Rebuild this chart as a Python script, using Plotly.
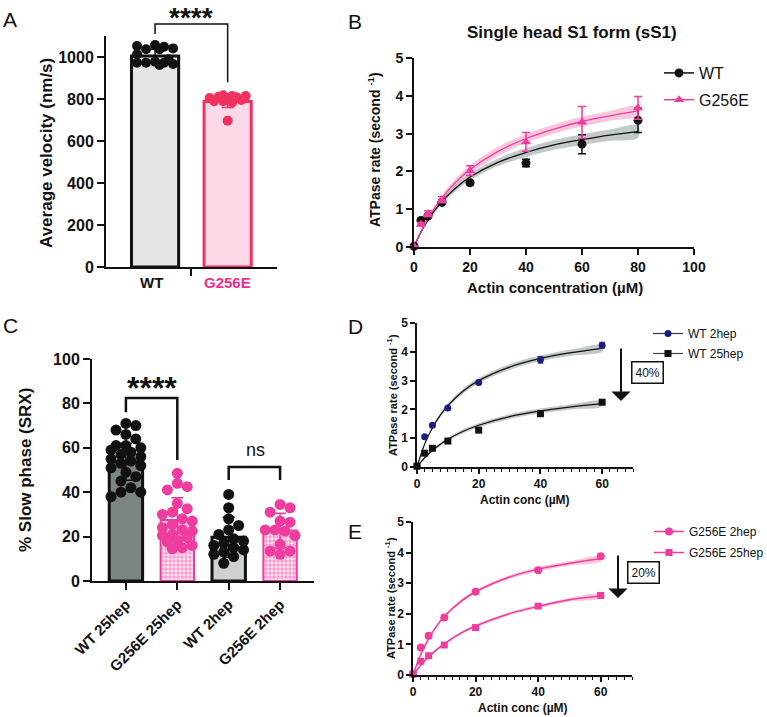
import math
import plotly.graph_objects as go

FONT = "Liberation Sans, Arial, sans-serif"
W, H = 767, 717

# ---------------- Panel A data ----------------
a_groups = ["WT", "G256E"]
a_means = [1005, 788]
a_sd = [32, 28]
a_wt_points = [1057, 1049, 1037, 1041, 1052, 1037, 1013, 978, 973, 973, 967, 973, 962, 989]
a_g_points = [805, 808, 811, 814, 805, 814, 818, 795, 789, 783, 789, 800, 697]

# ---------------- Panel B data ----------------
b_x = [0, 2.5, 5, 10, 20, 40, 60, 80]
b_wt = [0.02, 0.70, 0.82, 1.18, 1.70, 2.22, 2.72, 3.35]
b_wt_err = [0, 0.03, 0.04, 0.05, 0.05, 0.10, 0.25, 0.32]
b_g = [0.02, 0.60, 0.88, 1.25, 2.02, 2.78, 3.30, 3.68]
b_g_err = [0, 0.05, 0.08, 0.08, 0.13, 0.25, 0.42, 0.30]
b_fit_x = [0, 2.5, 5, 10, 15, 20, 30, 40, 50, 60, 70, 80]
b_wt_fit = [0, 0.40, 0.72, 1.21, 1.57, 1.85, 2.24, 2.50, 2.70, 2.84, 2.96, 3.05]
b_wt_band = [0, 0.03, 0.05, 0.07, 0.08, 0.09, 0.10, 0.12, 0.13, 0.14, 0.15, 0.16]
b_g_fit = [0, 0.41, 0.75, 1.30, 1.72, 2.05, 2.53, 2.87, 3.12, 3.32, 3.47, 3.60]
b_g_band = [0, 0.03, 0.06, 0.08, 0.10, 0.11, 0.12, 0.12, 0.12, 0.13, 0.13, 0.13]

# ---------------- Panel C data ----------------
c_groups = ["WT 25hep", "G256E 25hep", "WT 2hep", "G256E 2hep"]
c_means = [53.7, 27.5, 19.7, 22.7]
c_sd = [8.3, 10.0, 9.0, 7.8]
c_wt25 = [71, 70, 68, 66, 64, 61, 61, 60, 59, 58, 57, 56, 55, 54, 53, 52, 51, 49, 47, 45, 42, 40, 40, 38]
c_g25 = [48.5, 44, 42.5, 41, 35, 32.5, 31, 30, 28, 27, 25.5, 24, 23, 22.5, 21, 20.5, 19.5, 18.5, 17.5, 16, 15, 14.5]
c_wt2 = [39, 33, 28, 25, 23, 21, 19, 18, 17, 16, 15, 14, 13, 12, 11, 8]
c_g2 = [34.5, 33, 31, 27, 26.5, 23, 23, 22.5, 20.5, 16.5, 13.5, 13.5, 12]

# ---------------- Panel D data ----------------
d_x = [0, 2.5, 5, 10, 20, 40, 60]
d_wt2 = [0.03, 1.05, 1.45, 2.05, 2.93, 3.72, 4.23]
d_wt2_err = [0, 0.03, 0.03, 0.04, 0.05, 0.12, 0.10]
d_wt25 = [0.03, 0.48, 0.65, 0.90, 1.28, 1.85, 2.25]
d_wt25_err = [0, 0.02, 0.03, 0.03, 0.04, 0.04, 0.04]
d_fit_x = [0, 2.5, 5, 7.5, 10, 15, 20, 30, 40, 50, 60]
d_wt2_fit = [0, 0.80, 1.36, 1.79, 2.13, 2.64, 3.00, 3.47, 3.77, 3.97, 4.12]
d_wt2_band = [0, 0.04, 0.06, 0.07, 0.08, 0.09, 0.09, 0.10, 0.10, 0.11, 0.11]
d_wt25_fit = [0, 0.32, 0.57, 0.78, 0.96, 1.24, 1.45, 1.75, 1.95, 2.09, 2.20]
d_wt25_band = [0, 0.03, 0.05, 0.06, 0.06, 0.07, 0.07, 0.08, 0.08, 0.09, 0.09]

# ---------------- Panel E data ----------------
e_x = [0, 2.5, 5, 10, 20, 40, 60]
e_g2 = [0.03, 0.90, 1.28, 1.88, 2.72, 3.42, 3.88]
e_g25 = [0.03, 0.45, 0.63, 0.98, 1.55, 2.25, 2.60]
e_fit_x = [0, 2.5, 5, 7.5, 10, 15, 20, 30, 40, 50, 60]
e_g2_fit = [0, 0.68, 1.19, 1.59, 1.91, 2.38, 2.72, 3.17, 3.46, 3.65, 3.80]
e_g2_band = [0, 0.03, 0.04, 0.05, 0.05, 0.06, 0.06, 0.06, 0.07, 0.07, 0.08]
e_g25_fit = [0, 0.32, 0.59, 0.82, 1.02, 1.35, 1.60, 1.98, 2.24, 2.46, 2.58]
e_g25_band = [0, 0.02, 0.03, 0.04, 0.04, 0.05, 0.05, 0.05, 0.06, 0.06, 0.07]

# significance brackets: (left x, right x, top, left leg end, right leg end) in data units
a_bracket = (0, 1, 1157, 1110, 880)
c_bracket1 = (0, 1, 82.4, 76, 54.5)
c_bracket2 = (2, 3, 51.4, 45.5, 45.5)

# ---------------- colours ----------------
BLACK = "#111111"
PINK_A = "#f0325f"
PINK_A_LABEL = "#ee2f8c"
PINK_A_FILL = "#fdd8e8"
PINK = "#ee3d9e"
PINK_BAND = "rgba(240,130,185,0.45)"
GRAY_BAND = "rgba(120,135,132,0.45)"
NAVY = "#1c1c80"


def pxx(x):
    return x / W


def pxy(y):
    return 1 - y / H


def swarm(vals, ypx, xpx, diam, maxoff):
    step = diam * 0.45
    n = int(maxoff * xpx / step)
    cands = [0.0]
    for k in range(1, n + 1):
        cands += [k * step, -k * step]
    placed, offs = [], []
    for v in vals:
        y = v * ypx
        best, bestd, bestc = None, -1, 0.0
        for c in cands:
            d = min([math.hypot(c - p[0], y - p[1]) for p in placed], default=1e9)
            if d >= diam * 0.9:
                best = c
                break
            if d > bestd:
                bestd, bestc = d, c
        if best is None:
            best = bestc
        placed.append((best, y))
        offs.append(best / xpx)
    return offs


fig = go.Figure()

# ================= Panel A =================
a_fill = ["#e4e6e6", PINK_A_FILL]
a_line = [BLACK, PINK_A]
for i in range(2):
    fig.add_trace(go.Bar(x=[i], y=[a_means[i]], width=0.65,
                         marker=dict(color=a_fill[i], line=dict(color=a_line[i], width=3)),
                         error_y=dict(type="data", array=[a_sd[i]], color=a_line[i], thickness=1.5, width=6),
                         xaxis="x", yaxis="y", showlegend=False))
for gi, (pts, col) in enumerate([(a_wt_points, BLACK), (a_g_points, PINK_A)]):
    offs = swarm(pts, 0.21, 72.5, 10, 0.28)
    fig.add_trace(go.Scatter(x=[gi + o for o in offs], y=pts, mode="markers",
                             marker=dict(color=col, size=10), cliponaxis=False,
                             xaxis="x", yaxis="y", showlegend=False))


# ================= Panel B =================
def band(xs, fit, hw, color, xa, ya):
    upper = [f + h for f, h in zip(fit, hw)]
    lower = [f - h for f, h in zip(fit, hw)]
    fig.add_trace(go.Scatter(x=xs + xs[::-1], y=upper + lower[::-1], fill="toself",
                             fillcolor=color, line=dict(width=0, shape="spline"), mode="lines",
                             hoverinfo="skip", xaxis=xa, yaxis=ya, showlegend=False))


band(b_fit_x, b_wt_fit, b_wt_band, GRAY_BAND, "x2", "y2")
band(b_fit_x, b_g_fit, b_g_band, PINK_BAND, "x2", "y2")
fig.add_trace(go.Scatter(x=b_fit_x, y=b_wt_fit, mode="lines", line=dict(color=BLACK, width=1.3, shape="spline"),
                         xaxis="x2", yaxis="y2", showlegend=False))
fig.add_trace(go.Scatter(x=b_fit_x, y=b_g_fit, mode="lines", line=dict(color=PINK, width=1.3, shape="spline"),
                         xaxis="x2", yaxis="y2", showlegend=False))
fig.add_trace(go.Scatter(x=b_x, y=b_wt, mode="markers", marker=dict(color=BLACK, size=9, symbol="circle"),
                         error_y=dict(type="data", array=b_wt_err, color=BLACK, thickness=1.5, width=4),
                         cliponaxis=False, xaxis="x2", yaxis="y2", showlegend=False))
fig.add_trace(go.Scatter(x=b_x, y=b_g, mode="markers", marker=dict(color=PINK, size=9, symbol="triangle-up"),
                         error_y=dict(type="data", array=b_g_err, color=PINK, thickness=1.5, width=4),
                         cliponaxis=False, xaxis="x2", yaxis="y2", showlegend=False))
fig.add_trace(go.Scatter(x=[None], y=[None], mode="lines+markers", name="WT",
                         line=dict(color=BLACK, width=1.5), marker=dict(color=BLACK, size=9),
                         legend="legend", legendgroup="b1", xaxis="x2", yaxis="y2"))
fig.add_trace(go.Scatter(x=[None], y=[None], mode="lines+markers", name="G256E",
                         line=dict(color=PINK, width=1.5), marker=dict(color=PINK, size=9, symbol="triangle-up"),
                         legend="legend", legendgroup="b2", xaxis="x2", yaxis="y2"))

# ================= Panel C =================
c_fill = ["#7b8684", "#fbd0e6", "#cdd1d0", "#fbd0e6"]
c_line = [BLACK, PINK, BLACK, PINK]
for i in range(4):
    pink = i % 2 == 1
    marker = dict(color=c_fill[i], line=dict(color=c_line[i], width=3 if not pink else 2))
    if pink:
        marker["pattern"] = dict(shape=".", fgcolor="#ee5aae", bgcolor="#fde3f0", size=4, solidity=0.55)
    fig.add_trace(go.Bar(x=[i], y=[c_means[i]], width=0.65, marker=marker,
                         error_y=dict(type="data", array=[c_sd[i]], color=c_line[i], thickness=1.5, width=6),
                         xaxis="x3", yaxis="y3", showlegend=False))
for i, (pts, col) in enumerate([(c_wt25, BLACK), (c_g25, PINK), (c_wt2, BLACK), (c_g2, PINK)]):
    offs = swarm(pts, 2.22, 51.3, 11, 0.3)
    fig.add_trace(go.Scatter(x=[i + o for o in offs], y=pts, mode="markers",
                             marker=dict(color=col, size=11), cliponaxis=False,
                             xaxis="x3", yaxis="y3", showlegend=False))

# ================= Panel D =================
band(d_fit_x, d_wt2_fit, d_wt2_band, GRAY_BAND, "x4", "y4")
band(d_fit_x, d_wt25_fit, d_wt25_band, GRAY_BAND, "x4", "y4")
for fit in (d_wt2_fit, d_wt25_fit):
    fig.add_trace(go.Scatter(x=d_fit_x, y=fit, mode="lines", line=dict(color=BLACK, width=1.2, shape="spline"),
                             xaxis="x4", yaxis="y4", showlegend=False))
fig.add_trace(go.Scatter(x=d_x, y=d_wt2, mode="markers", marker=dict(color=NAVY, size=7),
                         error_y=dict(type="data", array=d_wt2_err, color="#555555", thickness=1, width=3),
                         cliponaxis=False, xaxis="x4", yaxis="y4", showlegend=False))
fig.add_trace(go.Scatter(x=d_x, y=d_wt25, mode="markers", marker=dict(color=BLACK, size=7, symbol="square"),
                         error_y=dict(type="data", array=d_wt25_err, color="#555555", thickness=1, width=3),
                         cliponaxis=False, xaxis="x4", yaxis="y4", showlegend=False))
fig.add_trace(go.Scatter(x=[None], y=[None], mode="lines+markers", name="WT 2hep",
                         line=dict(color="#333355", width=1.2), marker=dict(color=NAVY, size=7),
                         legend="legend2", legendgroup="d1", xaxis="x4", yaxis="y4"))
fig.add_trace(go.Scatter(x=[None], y=[None], mode="lines+markers", name="WT 25hep",
                         line=dict(color="#444444", width=1.2), marker=dict(color=BLACK, size=7, symbol="square"),
                         legend="legend2", legendgroup="d2", xaxis="x4", yaxis="y4"))

# ================= Panel E =================
band(e_fit_x, e_g2_fit, e_g2_band, PINK_BAND, "x5", "y5")
band(e_fit_x, e_g25_fit, e_g25_band, PINK_BAND, "x5", "y5")
for fit in (e_g2_fit, e_g25_fit):
    fig.add_trace(go.Scatter(x=e_fit_x, y=fit, mode="lines", line=dict(color=PINK, width=1.5, shape="spline"),
                             xaxis="x5", yaxis="y5", showlegend=False))
fig.add_trace(go.Scatter(x=e_x, y=e_g2, mode="markers", marker=dict(color=PINK, size=8),
                         cliponaxis=False, xaxis="x5", yaxis="y5", showlegend=False))
fig.add_trace(go.Scatter(x=e_x, y=e_g25, mode="markers", marker=dict(color=PINK, size=7, symbol="square"),
                         cliponaxis=False, xaxis="x5", yaxis="y5", showlegend=False))
fig.add_trace(go.Scatter(x=[None], y=[None], mode="lines+markers", name="G256E 2hep",
                         line=dict(color=PINK, width=1.5), marker=dict(color=PINK, size=8),
                         legend="legend3", legendgroup="e1", xaxis="x5", yaxis="y5"))
fig.add_trace(go.Scatter(x=[None], y=[None], mode="lines+markers", name="G256E 25hep",
                         line=dict(color=PINK, width=1.5), marker=dict(color=PINK, size=7, symbol="square"),
                         legend="legend3", legendgroup="e2", xaxis="x5", yaxis="y5"))


# ================= axes =================
def axis(domain, rng, anchor, size, lw=2, tl=6, **kw):
    d = dict(domain=domain, range=rng, anchor=anchor, showline=True, linecolor=BLACK, linewidth=lw,
             ticks="outside", ticklen=tl, tickwidth=lw, tickcolor=BLACK, showgrid=False, zeroline=False,
             tickfont=dict(family=FONT, size=size, color=BLACK, weight="bold"), layer="above traces")
    d.update(kw)
    return d


AX = {
    "xaxis": axis([pxx(106), pxx(277)], [-0.676, 1.68], "y", 15, tickvals=[0.5], ticktext=[""], ticklen=7),
    "yaxis": axis([pxy(267), pxy(36)], [0, 1100], "x", 16, tickvals=[0, 200, 400, 600, 800, 1000], ticklen=7),
    "xaxis2": axis([pxx(414), pxx(694)], [0, 100], "y2", 14, tickvals=[0, 20, 40, 60, 80, 100]),
    "yaxis2": axis([pxy(247), pxy(58)], [0, 5], "x2", 14, tickvals=[0, 1, 2, 3, 4, 5]),
    "xaxis3": axis([pxx(92), pxx(314)], [-0.66, 3.66], "y3", 15, tickvals=[0, 1, 2, 3], ticktext=c_groups,
                   tickangle=-45, ticklen=7),
    "yaxis3": axis([pxy(581), pxy(359)], [0, 100], "x3", 16, tickvals=[0, 20, 40, 60, 80, 100], ticklen=7),
    "xaxis4": axis([pxx(417), pxx(633)], [0, 70], "y4", 12, lw=1.5, tl=5, tickvals=[0, 20, 40, 60],
                   minor=dict(dtick=2.5, tick0=0, ticklen=3, tickwidth=1.2, ticks="outside", tickcolor=BLACK)),
    "yaxis4": axis([pxy(467), pxy(323)], [0, 5], "x4", 12, lw=1.5, tl=5, tickvals=[0, 1, 2, 3, 4, 5]),
    "xaxis5": axis([pxx(413), pxx(632)], [0, 70], "y5", 12, lw=1.5, tl=5, tickvals=[0, 20, 40, 60],
                   minor=dict(dtick=2.5, tick0=0, ticklen=3, tickwidth=1.2, ticks="outside", tickcolor=BLACK)),
    "yaxis5": axis([pxy(675), pxy(522)], [0, 5], "x5", 12, lw=1.5, tl=5, tickvals=[0, 1, 2, 3, 4, 5]),
}

layout = dict(
    width=W, height=H, margin=dict(l=0, r=0, t=0, b=0, autoexpand=False),
    paper_bgcolor="white", plot_bgcolor="rgba(0,0,0,0)",
    font=dict(family=FONT, color=BLACK), barmode="overlay",
    legend=dict(x=pxx(659), y=pxy(56), xanchor="left", yanchor="top", bgcolor="rgba(0,0,0,0)",
                font=dict(family=FONT, size=16, color=BLACK), tracegroupgap=3, itemwidth=30),
    legend2=dict(x=pxx(648), y=pxy(319), xanchor="left", yanchor="top", bgcolor="rgba(0,0,0,0)",
                 font=dict(family=FONT, size=12, color=BLACK), tracegroupgap=1, itemwidth=30),
    legend3=dict(x=pxx(649), y=pxy(517), xanchor="left", yanchor="top", bgcolor="rgba(0,0,0,0)",
                 font=dict(family=FONT, size=12, color=BLACK), tracegroupgap=2, itemwidth=30),
    **AX,
)
fig.update_layout(**layout)


def ann(x, y, text, size, bold=False, angle=0, color=BLACK, **kw):
    d = dict(x=pxx(x), y=pxy(y), xref="paper", yref="paper", text=text, showarrow=False,
             textangle=angle, xanchor="center", yanchor="middle",
             font=dict(family=FONT, size=size, color=color, weight="bold" if bold else "normal"))
    d.update(kw)
    fig.add_annotation(**d)


# panel letters
ann(10, 19, "A", 21)
ann(355, 21, "B", 21)
ann(10, 325, "C", 21)
ann(355, 326, "D", 21)
ann(355, 531, "E", 21)

# panel A texts
ann(47, 153, "Average velocity (nm/s)", 17, bold=True, angle=-90)
ann(151, 282, "WT", 15, bold=True)
ann(227, 282, "G256E", 15, bold=True, color=PINK_A_LABEL)
ann(191, 17, "****", 28, bold=True)

# panel B texts
ann(572, 33, "Single head S1 form (sS1)", 17, bold=True)
ann(374, 150, "ATPase rate (second <sup>-1</sup>)", 14, bold=True, angle=-90)
ann(555, 288, "Actin concentration (µM)", 15, bold=True)

# panel C texts
ann(25, 470, "% Slow phase (SRX)", 17, bold=True, angle=-90)
ann(152, 388, "****", 32, bold=True)
ann(255, 450, "ns", 18)

# panel D / E texts
ann(392, 395, "ATPase rate (second <sup>-1</sup>)", 11, bold=True, angle=-90)
ann(525, 500, "Actin conc (µM)", 12, bold=True)
ann(390, 598, "ATPase rate (second <sup>-1</sup>)", 11, bold=True, angle=-90)
ann(523, 708, "Actin conc (µM)", 12, bold=True)
ann(647, 372, "40%", 12, bordercolor=BLACK, borderwidth=1.5, borderpad=3)
ann(643, 572, "20%", 12, bordercolor=BLACK, borderwidth=1.5, borderpad=3)
for (x, y0, y1) in [(621, 347, 401), (618, 554, 598)]:
    fig.add_annotation(x=pxx(x), y=pxy(y1), xref="paper", yref="paper", ax=0, ay=-(y1 - y0),
                       axref="pixel", ayref="pixel", text="", showarrow=True,
                       arrowhead=1, arrowsize=1.6, arrowwidth=2, arrowcolor=BLACK)


# significance brackets, mapped from data units to paper through the axis ranges
def to_paper(v, axname):
    a = AX[axname]
    d0, d1 = a["domain"]
    r0, r1 = a["range"]
    return d0 + (v - r0) / (r1 - r0) * (d1 - d0)


for br, xa, ya, lw in [(a_bracket, "xaxis", "yaxis", 1.5), (c_bracket1, "xaxis3", "yaxis3", 2.5),
                       (c_bracket2, "xaxis3", "yaxis3", 2.5)]:
    x0, x1, top, le, re = br
    pts = [(x0, le), (x0, top), (x1, top), (x1, re)]
    path = "M " + " L ".join(f"{to_paper(px, xa):.5f},{to_paper(py, ya):.5f}" for px, py in pts)
    fig.add_shape(type="path", path=path, xref="paper", yref="paper", line=dict(color=BLACK, width=lw))

# remove the default page margin so the 767x717 figure fills the window exactly
fig.write_html("out.html", config={"displayModeBar": False},
               post_script="document.body.style.margin='0';document.body.style.overflow='hidden';")
